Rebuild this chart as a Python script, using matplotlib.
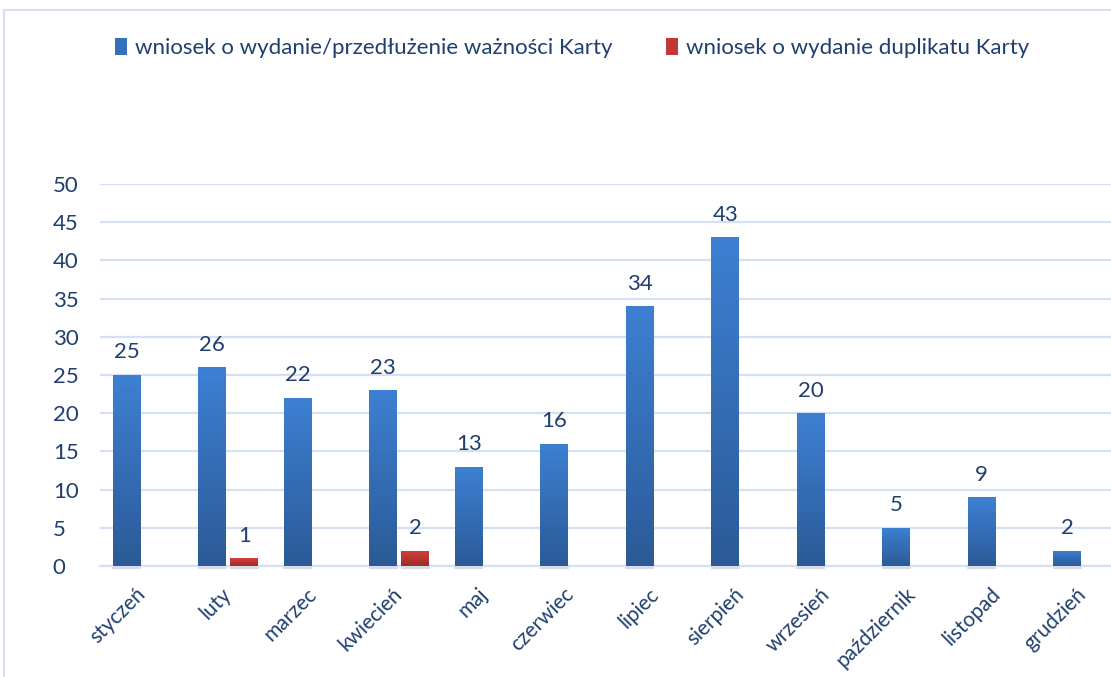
import numpy as np
import matplotlib
matplotlib.use('Agg')
import matplotlib.pyplot as plt
from matplotlib.colors import LinearSegmentedColormap
from matplotlib.patches import Patch
from matplotlib.lines import Line2D

# data
months = ['styczeń', 'luty', 'marzec', 'kwiecień', 'maj', 'czerwiec', 'lipiec',
          'sierpień', 'wrzesień', 'październik', 'listopad', 'grudzień']
wydanie = [25, 26, 22, 23, 13, 16, 34, 43, 20, 5, 9, 2]
duplikat = [0, 1, 0, 2, 0, 0, 0, 0, 0, 0, 0, 0]
labels = ['wniosek o wydanie/przedłużenie ważności Karty', 'wniosek o wydanie duplikatu Karty']

plt.rcParams['font.family'] = ['Lato', 'DejaVu Sans']
text_col = '#1F3F6E'
grid_col = '#D5E1F2'

fig = plt.figure(figsize=(11.11, 6.77), dpi=100)
ax = fig.add_axes([100 / 1111, 111 / 677, 1026 / 1111, 382 / 677])

x = np.arange(len(months))
w = 0.327
off = 0.187

blue_cm = LinearSegmentedColormap.from_list('b', ['#2C5A98', '#3D80D2'])
red_cm = LinearSegmentedColormap.from_list('r', ['#A12B2B', '#D3403E'])
grad = np.linspace(0, 1, 100).reshape(-1, 1)

def gradient_bars(bars, cmap):
    for r in bars:
        x0, y0 = r.get_x(), r.get_y()
        bw, bh = r.get_width(), r.get_height()
        if bh <= 0:
            continue
        im = ax.imshow(grad, extent=[x0, x0 + bw, y0, y0 + bh], origin='lower',
                       aspect='auto', cmap=cmap, zorder=3)
        im.set_clip_path(r)
        # soft shadow under the bar
        ax.bar(x0 + bw / 2, -0.45, bw * 1.05, color='#999999', alpha=0.35,
               zorder=1, clip_on=False, lw=0)

b1 = ax.bar(x - off, wydanie, w, color='#3570BA', zorder=2)
b2 = ax.bar(x + off, duplikat, w, color='#C03838', zorder=2)
gradient_bars(b1, blue_cm)
gradient_bars(b2, red_cm)

# value labels, zeros not shown
for xi, v in zip(x - off, wydanie):
    if v:
        ax.annotate(str(v), (xi, v), xytext=(0, 9), textcoords='offset points',
                    ha='center', va='bottom', fontsize=16, color=text_col, zorder=4)
for xi, v in zip(x + off, duplikat):
    if v:
        ax.annotate(str(v), (xi, v), xytext=(0, 9), textcoords='offset points',
                    ha='center', va='bottom', fontsize=16, color=text_col, zorder=4)

ax.set_xlim(-0.5, len(months) - 0.5)
ax.set_ylim(0, 50)
ax.set_yticks(range(0, 51, 5))
ax.yaxis.grid(True, color=grid_col, lw=1.6, zorder=0)
ax.set_axisbelow(True)
for s in ['top', 'right', 'left']:
    ax.spines[s].set_visible(False)
ax.spines['bottom'].set_color(grid_col)
ax.spines['bottom'].set_linewidth(1.6)
ax.spines['bottom'].set_zorder(1.5)

ax.set_xticks(x)
ax.set_xticklabels(months, rotation=45, ha='right', va='center',
                   rotation_mode='anchor', fontsize=15, color=text_col)
ax.tick_params(axis='x', length=0, pad=18)
ax.tick_params(axis='y', length=0, pad=34, labelsize=16, labelcolor=text_col)
for t in ax.get_yticklabels():
    t.set_horizontalalignment('left')

handles = [Patch(facecolor='#3570BA'), Patch(facecolor='#C03838')]
fig.legend(handles, labels, loc='center', bbox_to_anchor=(572 / 1111, 1 - 48 / 677),
           ncol=2, frameon=False, fontsize=16, labelcolor=text_col,
           handlelength=0.55, handleheight=0.8, handletextpad=0.35, columnspacing=2.4)

# chart area border (top and left edges visible)
fig.add_artist(Line2D([4 / 1111, 1], [1 - 10 / 677, 1 - 10 / 677], color=grid_col, lw=1.5))
fig.add_artist(Line2D([4 / 1111, 4 / 1111], [0, 1 - 10 / 677], color=grid_col, lw=1.5))

fig.savefig('out.png', dpi=100)
